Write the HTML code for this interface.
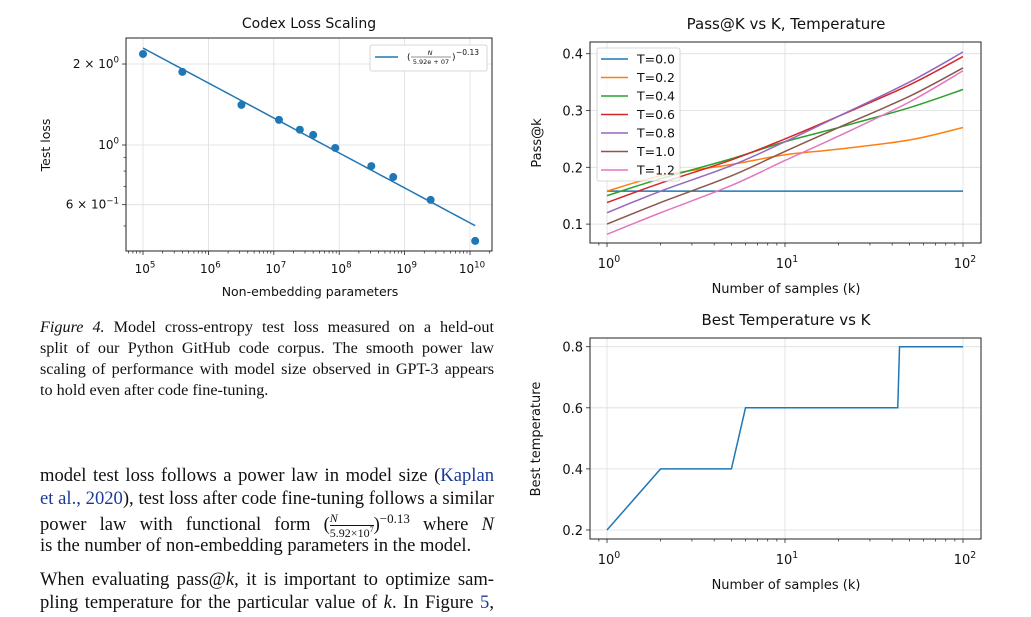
<!DOCTYPE html>
<html><head><meta charset="utf-8">
<style>
body{margin:0;width:1031px;height:617px;background:#fff;position:relative;overflow:hidden;font-family:"Liberation Serif",serif;}
svg{position:absolute;left:0;top:0}
svg text{font-family:"DejaVu Sans",sans-serif;fill:#111}
.ln{position:absolute;left:40px;width:454px;text-align:justify;text-align-last:justify;white-space:nowrap;color:#111}
.cap{font-size:16.2px}
.body{font-size:18.6px}
.lk{color:#1a3a9a}
</style></head><body>
<svg id="s" width="1031" height="617"></svg>
<div class="ln cap" style="top:318px"><i>Figure 4.</i> Model cross-entropy test loss measured on a held-out</div>
<div class="ln cap" style="top:339px">split of our Python GitHub code corpus. The smooth power law</div>
<div class="ln cap" style="top:360px">scaling of performance with model size observed in GPT-3 appears</div>
<div class="ln cap" style="top:381px;text-align-last:left">to hold even after code fine-tuning.</div>
<div class="ln body" style="top:465px">model test loss follows a power law in model size (<span class="lk">Kaplan</span></div>
<div class="ln body" style="top:488px"><span class="lk">et al., 2020</span>), test loss after code fine-tuning follows a similar</div>
<div class="ln body" style="top:511px">power law with functional form (<span style="display:inline-block;vertical-align:middle;font-size:12px;text-align:center;line-height:11px"><i>N</i><br><span style="border-top:1px solid #111">5.92×10<sup style="font-size:8px">7</sup></span></span>)<sup style="font-size:13px">−0.13</sup> where <i>N</i></div>
<div class="ln body" style="top:535px;text-align-last:left">is the number of non-embedding parameters in the model.</div>
<div class="ln body" style="top:569px">When evaluating pass@<i>k</i>, it is important to optimize sam-</div>
<div class="ln body" style="top:592px">pling temperature for the particular value of <i>k</i>. In Figure <span class="lk">5</span>,</div>
<script>
// ---- data: Codex loss scaling ----
const lossParams=[1e5,4e5,3.2e6,1.2e7,2.5e7,4e7,8.7e7,3.1e8,6.7e8,2.5e9,1.2e10];
const lossValues=[2.18,1.87,1.41,1.24,1.14,1.09,0.975,0.835,0.76,0.625,0.44];
const fitScale=5.92e7, fitExp=-0.13;
const lossXTicks=[5,6,7,8,9,10];
const lossYTicks=[2,1,0.6];
const lossYTickMant=["2 × ","",  "6 × "];
const lossYTickExp=["0","0","−1"];
// ---- data: Pass@K ----
const kValues=[1,2,5,10,20,50,100];
const tempLabels=["T=0.0","T=0.2","T=0.4","T=0.6","T=0.8","T=1.0","T=1.2"];
const passT00=[0.158,0.158,0.158,0.158,0.158,0.158,0.158];
const passT02=[0.158,0.185,0.205,0.222,0.232,0.248,0.27];
const passT04=[0.15,0.18,0.215,0.245,0.27,0.305,0.337];
const passT06=[0.138,0.172,0.213,0.25,0.29,0.345,0.395];
const passT08=[0.12,0.158,0.203,0.245,0.29,0.35,0.403];
const passT10=[0.10,0.138,0.185,0.228,0.27,0.325,0.375];
const passT12=[0.082,0.12,0.168,0.212,0.255,0.315,0.37];
const passYTicks=[0.1,0.2,0.3,0.4];
// ---- data: Best temperature ----
const bestK=[1,2,5,6,43,44,100];
const bestT=[0.2,0.4,0.4,0.6,0.6,0.8,0.8];
const bestYTicks=[0.2,0.4,0.6,0.8];
const kTicks=[0,1,2];

const S=document.getElementById('s');const NS='http://www.w3.org/2000/svg';
function mk(t,a,txt,par){const e=document.createElementNS(NS,t);for(const k in a)e.setAttribute(k,a[k]);if(txt!==undefined)e.textContent=txt;(par||S).appendChild(e);return e;}
const colors=['#1f77b4','#ff7f0e','#2ca02c','#d62728','#9467bd','#8c564b','#e377c2'];
function powText(x,y,fs,anchor,mant,exp,name){
 const t=mk('text',{x:x,y:y,'font-size':fs,'text-anchor':anchor});
 
 
 mk('tspan',{},mant+'10',t);
 mk('tspan',{dy:-fs*0.45,'font-size':fs*0.72},exp,t);
 return t;}

// ===== Chart 1 =====
const lx=v=>143+(Math.log10(v)-5)*65.4;
const ly=v=>145-Math.log10(v)*269;
lossXTicks.forEach(d=>{const x=lx(Math.pow(10,d));let e=mk('line',{x1:x,x2:x,y1:38,y2:251,stroke:'#ddd','stroke-width':0.8});});
lossYTicks.forEach(v=>{let e=mk('line',{x1:126,x2:492,y1:ly(v),y2:ly(v),stroke:'#ddd','stroke-width':0.8});});
for(let d=4;d<=10;d++)for(let m=2;m<=9;m++){const x=lx(m*Math.pow(10,d));if(x<127||x>491)continue;let e=mk('line',{x1:x,x2:x,y1:251,y2:253.5,stroke:'#222','stroke-width':0.7});}
lossXTicks.forEach(d=>{const x=lx(Math.pow(10,d));let e=mk('line',{x1:x,x2:x,y1:251,y2:255,stroke:'#222','stroke-width':0.8});
powText(x+2,273,12,'middle','',String(d),'x-tick-label');});
[0.5,0.7,0.8,0.9].forEach(v=>{let e=mk('line',{x1:123.5,x2:126,y1:ly(v),y2:ly(v),stroke:'#222','stroke-width':0.7});});
lossYTicks.forEach((v,i)=>{let e=mk('line',{x1:122,x2:126,y1:ly(v),y2:ly(v),stroke:'#222','stroke-width':0.8});
powText(119,ly(v)+4,12,'end',lossYTickMant[i],lossYTickExp[i],'y-tick-label');});
{let pts=[];for(let i=0;i<=40;i++){const lg=5+i*(Math.log10(1.2e10)-5)/40;const n=Math.pow(10,lg);pts.push(lx(n)+','+ly(Math.pow(n/fitScale,fitExp)));}
let e=mk('polyline',{points:pts.join(' '),fill:'none',stroke:colors[0],'stroke-width':1.5});}
lossParams.forEach((p,i)=>{let e=mk('circle',{cx:lx(p),cy:ly(lossValues[i]),r:4,fill:colors[0]});});
{let e=mk('rect',{x:126,y:38,width:366,height:213,fill:'none',stroke:'#222','stroke-width':1});
e=mk('text',{x:309,y:28,'font-size':14,'text-anchor':'middle'},'Codex Loss Scaling');
e=mk('text',{x:310,y:296,'font-size':12.5,'text-anchor':'middle'},'Non-embedding parameters');
e=mk('text',{x:0,y:0,'font-size':12.5,'text-anchor':'middle',transform:'translate(50,145) rotate(-90)'},'Test loss');
e=mk('rect',{x:370,y:45,width:117,height:26,fill:'#fff',stroke:'#ccc','stroke-width':0.8,rx:2});
e=mk('line',{x1:375,x2:398,y1:57,y2:57,stroke:colors[0],'stroke-width':1.5});
e=mk('text',{x:407,y:60,'font-size':9},'(');
e=mk('text',{x:430,y:55,'font-size':6.5,'text-anchor':'middle','font-style':'italic'},'N');
e=mk('line',{x1:411,x2:451,y1:57,y2:57,stroke:'#222','stroke-width':0.5});
e=mk('text',{x:431,y:64,'font-size':6.5,'text-anchor':'middle'},'5.92e + 07');
e=mk('text',{x:452,y:60,'font-size':9},')');
e=mk('text',{x:456,y:55,'font-size':7.5},'−0.13');}

// ===== shared k axis =====
const kx=k=>607+Math.log10(k)*178;
function kAxis(top,bot,name){
 kTicks.forEach(d=>{const x=kx(Math.pow(10,d));let e=mk('line',{x1:x,x2:x,y1:top,y2:bot,stroke:'#ddd','stroke-width':0.8});});
 for(let d=-1;d<=2;d++)for(let m=2;m<=9;m++){const x=kx(m*Math.pow(10,d));if(x<591||x>980)continue;let e=mk('line',{x1:x,x2:x,y1:bot,y2:bot+2.5,stroke:'#222','stroke-width':0.7});}
 kTicks.forEach(d=>{const x=kx(Math.pow(10,d));let e=mk('line',{x1:x,x2:x,y1:bot,y2:bot+4,stroke:'#222','stroke-width':0.8});
 powText(x+2,bot+25,13,'middle','',String(d),name+'-x-tick-label');});
 let e=mk('text',{x:786,y:bot+50,'font-size':13,'text-anchor':'middle'},'Number of samples (k)');
}
// ===== Chart 2 =====
const py=v=>53.7+(0.4-v)*568;
passYTicks.forEach(v=>{let e=mk('line',{x1:590,x2:981,y1:py(v),y2:py(v),stroke:'#ddd','stroke-width':0.8});
e=mk('line',{x1:586,x2:590,y1:py(v),y2:py(v),stroke:'#222','stroke-width':0.8});
e=mk('text',{x:583,y:py(v)+5,'font-size':13,'text-anchor':'end'},v.toFixed(1));});
kAxis(42,243,'pass');
const passSeries=[passT00,passT02,passT04,passT06,passT08,passT10,passT12];
function smooth(xs,ys){let d='M'+xs[0]+','+ys[0];for(let i=0;i<xs.length-1;i++){const x0=xs[Math.max(i-1,0)],y0=ys[Math.max(i-1,0)],x3=xs[Math.min(i+2,xs.length-1)],y3=ys[Math.min(i+2,xs.length-1)];
 d+=' C'+(xs[i]+(xs[i+1]-x0)/6)+','+(ys[i]+(ys[i+1]-y0)/6)+' '+(xs[i+1]-(x3-xs[i])/6)+','+(ys[i+1]-(y3-ys[i])/6)+' '+xs[i+1]+','+ys[i+1];}return d;}
passSeries.forEach((s,j)=>{let e=mk('path',{d:smooth(kValues.map(kx),s.map(py)),fill:'none',stroke:colors[j],'stroke-width':1.5});});
{let e=mk('rect',{x:597,y:48,width:83,height:133,fill:'#fff','fill-opacity':0.8,stroke:'#ccc','stroke-width':0.8,rx:2});}
tempLabels.forEach((t,j)=>{const y=59+j*18.5;let e=mk('line',{x1:601,x2:628,y1:y,y2:y,stroke:colors[j],'stroke-width':1.5});
e=mk('text',{x:637,y:y+4.5,'font-size':12.5},t);});
{let e=mk('rect',{x:590,y:42,width:391,height:201,fill:'none',stroke:'#222','stroke-width':1});
e=mk('text',{x:786,y:29,'font-size':15,'text-anchor':'middle'},'Pass@K vs K, Temperature');
e=mk('text',{x:0,y:0,'font-size':13,'text-anchor':'middle',transform:'translate(541,143) rotate(-90)'},'Pass@k');}
// ===== Chart 3 =====
const by=v=>346.7+(0.8-v)*305.5;
bestYTicks.forEach(v=>{let e=mk('line',{x1:590,x2:981,y1:by(v),y2:by(v),stroke:'#ddd','stroke-width':0.8});
e=mk('line',{x1:586,x2:590,y1:by(v),y2:by(v),stroke:'#222','stroke-width':0.8});
e=mk('text',{x:583,y:by(v)+5,'font-size':13,'text-anchor':'end'},v.toFixed(1));});
kAxis(338,539,'best');
{let e=mk('polyline',{points:bestK.map((k,i)=>kx(k)+','+by(bestT[i])).join(' '),fill:'none',stroke:colors[0],'stroke-width':1.5});
e=mk('rect',{x:590,y:338,width:391,height:201,fill:'none',stroke:'#222','stroke-width':1});
e=mk('text',{x:786,y:325,'font-size':15,'text-anchor':'middle'},'Best Temperature vs K');
e=mk('text',{x:0,y:0,'font-size':13,'text-anchor':'middle',transform:'translate(540,439) rotate(-90)'},'Best temperature');}
</script>
</body></html>
